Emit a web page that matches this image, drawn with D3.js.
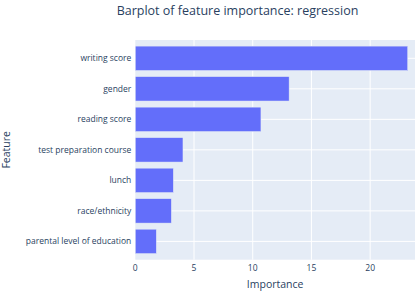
<!DOCTYPE html>
<html>
<head>
<meta charset="utf-8">
<script src="https://cdn.jsdelivr.net/npm/d3@7"></script>
<style>
  body { margin: 0; background: #fff; }
  text { font-family: "Open Sans", verdana, arial, sans-serif; fill: #2a3f5f; }
</style>
</head>
<body>
<svg id="chart" width="415" height="293"></svg>
<script>
// feature importance, top to bottom
var features = ["writing score", "gender", "reading score", "test preparation course",
                "lunch", "race/ethnicity", "parental level of education"];
var importance = [23.2, 13.1, 10.7, 4.06, 3.24, 3.07, 1.79];
var xTicks = [0, 5, 10, 15, 20];

var svg = d3.select("#chart");
var margin = {top: 40, right: 0, bottom: 33.3, left: 135.3};
var width = 415 - margin.left - margin.right,
    height = 293 - margin.top - margin.bottom;

var x = d3.scaleLinear().domain([0, 23.82]).range([0, width]);
var y = d3.scaleBand().domain(features).range([0, height]).padding(0.2);

var g = svg.append("g").attr("transform", "translate(" + margin.left + "," + margin.top + ")");

g.append("rect")
  .attr("width", width).attr("height", height)
  .attr("fill", "#e5ecf6");

// grid
g.selectAll(".vgrid").data(xTicks.slice(1)).enter().append("line")
  .attr("x1", d => x(d)).attr("x2", d => x(d))
  .attr("y1", 0).attr("y2", height)
  .attr("stroke", "#fff").attr("stroke-width", 1);
g.selectAll(".hgrid").data(features).enter().append("line")
  .attr("x1", 0).attr("x2", width)
  .attr("y1", d => y(d) + y.bandwidth() / 2).attr("y2", d => y(d) + y.bandwidth() / 2)
  .attr("stroke", "#fff").attr("stroke-width", 1);

// bars
g.selectAll(".bar").data(features).enter().append("rect")
  .attr("x", 0)
  .attr("y", d => y(d))
  .attr("width", (d, i) => x(importance[i]))
  .attr("height", y.bandwidth())
  .attr("fill", "#636efa")
  .attr("stroke", "#e5ecf6").attr("stroke-width", 0.5);

// y tick labels
g.selectAll(".ylab").data(features).enter().append("text")
  .attr("x", -4)
  .attr("y", d => y(d) + y.bandwidth() / 2)
  .attr("dy", "0.35em")
  .attr("text-anchor", "end")
  .style("font-size", "8.5px")
  .text(d => d);

// x tick labels
g.selectAll(".xlab").data(xTicks).enter().append("text")
  .attr("x", d => x(d))
  .attr("y", height + 11)
  .attr("text-anchor", "middle")
  .style("font-size", "8.5px")
  .text(d => d);

// axis titles
svg.append("text")
  .attr("x", margin.left + width / 2)
  .attr("y", 287.5)
  .attr("text-anchor", "middle")
  .style("font-size", "10.5px")
  .text("Importance");

svg.append("text")
  .attr("transform", "translate(9.5," + (margin.top + height / 2) + ") rotate(-90)")
  .attr("text-anchor", "middle")
  .style("font-size", "10.5px")
  .text("Feature");

svg.append("text")
  .attr("x", 237.5)
  .attr("y", 15)
  .attr("text-anchor", "middle")
  .style("font-size", "12.5px")
  .text("Barplot of feature importance: regression");
</script>
</body>
</html>
